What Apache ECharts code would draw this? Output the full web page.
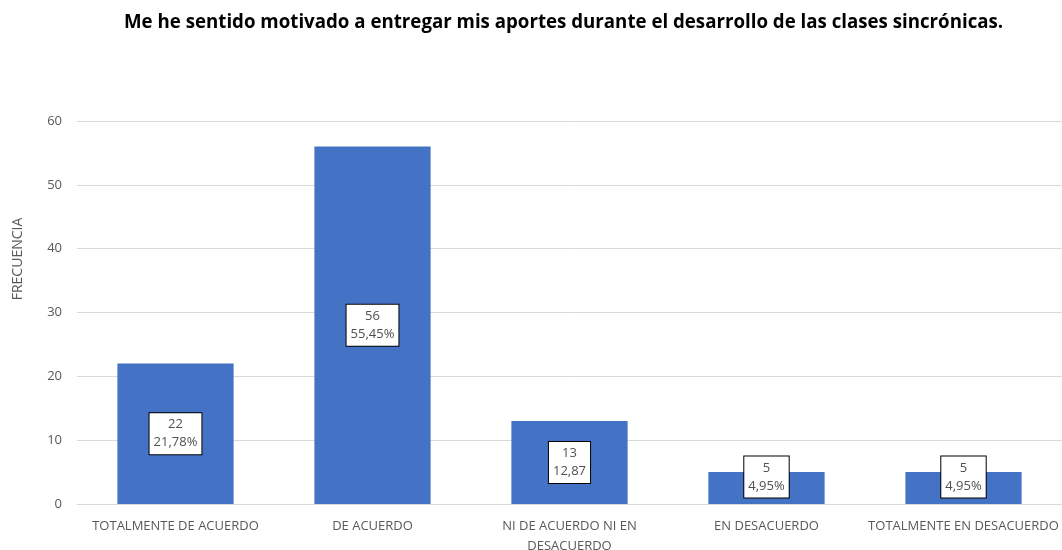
<!DOCTYPE html>
<html><head><meta charset="utf-8">
<script src="https://cdn.jsdelivr.net/npm/echarts@6/dist/echarts.min.js"></script>
<style>html,body{margin:0;padding:0;background:#fff}#c{width:1062px;height:550px}</style>
</head><body><div id="c"></div>
<script>
const categories = ['TOTALMENTE DE ACUERDO', 'DE ACUERDO', 'NI DE ACUERDO NI EN\nDESACUERDO', 'EN DESACUERDO', 'TOTALMENTE EN DESACUERDO'];
const values = [22, 56, 13, 5, 5];
const percentLabels = ['21,78%', '55,45%', '12,87', '4,95%', '4,95%'];
const yTicks = [0, 10, 20, 30, 40, 50, 60];
const titleText = 'Me he sentido motivado a entregar mis aportes durante el desarrollo de las clases sincrónicas.';
const yName = 'FRECUENCIA';

const chart = echarts.init(document.getElementById('c'));
const data = values.map((v, i) => ({
  value: v,
  label: v < 8 ? { offset: [0, -11] } : {}
}));
chart.setOption({
  animation: false,
  title: {
    text: titleText, left: 119, top: 8,
    textStyle: { fontFamily: 'Open Sans', fontWeight: 'bold', fontSize: 18.7, color: '#000' }
  },
  grid: { left: 77, right: 0, top: 121, bottom: 46, containLabel: false, outerBoundsMode: 'none' },
  graphic: [{
    type: 'text', x: 18, y: 259, rotation: Math.PI / 2,
    style: { text: yName, fontFamily: 'Open Sans', fontSize: 14, fill: '#595959', align: 'center', verticalAlign: 'middle' }
  }],
  xAxis: {
    type: 'category', data: categories,
    axisLine: { show: true, lineStyle: { color: '#d9d9d9', width: 1 } },
    axisTick: { show: false },
    axisLabel: { fontFamily: 'Open Sans', fontSize: 13, color: '#595959', margin: 12, lineHeight: 20, interval: 0 }
  },
  yAxis: {
    type: 'value', min: yTicks[0], max: yTicks[yTicks.length - 1], interval: 10,
    axisLine: { show: false }, axisTick: { show: false },
    splitLine: { lineStyle: { color: '#d9d9d9', width: 1 } },
    axisLabel: { fontFamily: 'Open Sans', fontSize: 13, color: '#595959', margin: 15 }
  },
  series: [{
    type: 'bar', data: data, barCategoryGap: '41%',
    itemStyle: { color: '#4472C4' },
    label: {
      show: true, position: 'inside',
      formatter: p => p.value + '\n' + percentLabels[p.dataIndex],
      fontFamily: 'Open Sans', fontSize: 13, color: '#505050', lineHeight: 18,
      backgroundColor: '#fff', borderColor: '#000', borderWidth: 1, padding: [3, 4, 2, 4]
    }
  }]
});
</script></body></html>
